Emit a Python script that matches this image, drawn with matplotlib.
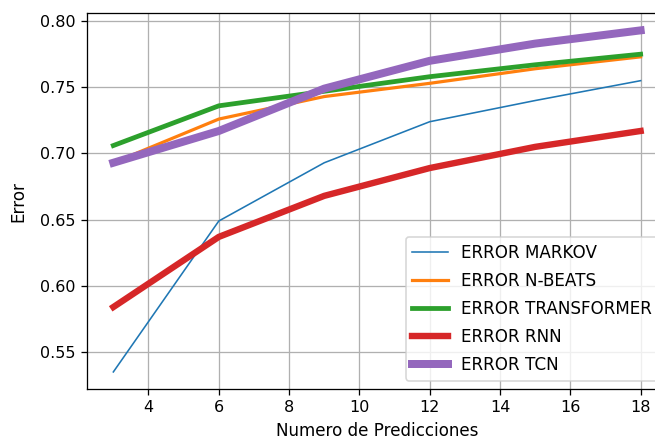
import matplotlib
matplotlib.use('Agg')
import matplotlib.pyplot as plt

# Numero de predicciones
x = [3, 6, 9, 12, 15, 18]

# Errores de cada modelo
markov = [0.535, 0.649, 0.693, 0.724, 0.740, 0.755]
nbeats = [0.693, 0.726, 0.743, 0.753, 0.764, 0.773]
transformer = [0.706, 0.736, 0.747, 0.758, 0.767, 0.775]
rnn = [0.584, 0.637, 0.668, 0.689, 0.705, 0.717]
tcn = [0.693, 0.717, 0.749, 0.770, 0.783, 0.793]

fig = plt.figure(figsize=(655 / 115, 440 / 115), dpi=115)
# the original figure is cut on the right, so the axes run past the edge
ax = fig.add_axes([0.1328, 0.1159, 0.8855, 0.8539])

ax.plot(x, markov, linewidth=1, label='ERROR MARKOV')
ax.plot(x, nbeats, linewidth=2, label='ERROR N-BEATS')
ax.plot(x, transformer, linewidth=3, label='ERROR TRANSFORMER')
ax.plot(x, rnn, linewidth=4, label='ERROR RNN')
ax.plot(x, tcn, linewidth=5, label='ERROR TCN')

ax.set_xlabel('Numero de Predicciones', fontsize=10.5, labelpad=4)
ax.set_ylabel('Error', fontsize=10.5, labelpad=8)
ax.grid(True)
ax.legend(loc='lower right', fontsize=10.5, labelspacing=0.6, handlelength=2.1)

fig.savefig('out.png', dpi=115)
